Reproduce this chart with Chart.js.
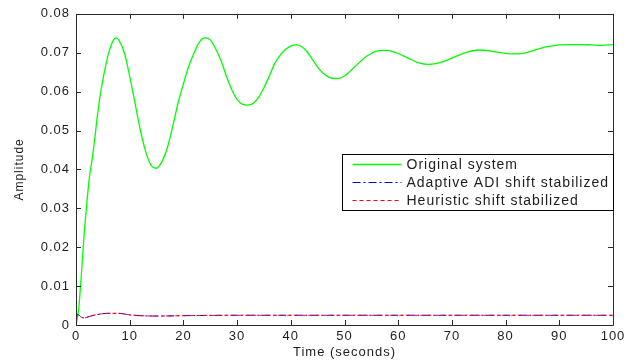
<!DOCTYPE html>
<html lang="en">
<head>
<meta charset="utf-8">
<title>Amplitude vs time</title>
<style>
  html, body { margin: 0; padding: 0; background: #fff; }
  #wrap { width: 634px; height: 360px; }
</style>
</head>
<body>
<div id="wrap"><canvas id="chart" width="634" height="360"></canvas></div>
<script src="https://cdn.jsdelivr.net/npm/chart.js@4.4.1/dist/chart.umd.min.js"></script>
<script>
// values
const timeOriginal = [0, 0.5, 1, 1.5, 2, 2.5, 3, 3.5, 4, 4.5, 5, 6, 7, 7.5, 8, 9, 10, 11, 12, 13, 14, 15, 16, 17, 18, 19, 20,
  21, 22, 23, 24, 25, 26, 27, 28, 29, 30, 31, 32, 33, 34, 35, 36, 37, 38, 39, 40, 41, 42, 43, 44, 45, 46, 47, 48, 49, 50,
  51, 52, 53, 54, 55, 56, 57, 58, 59, 60, 62, 64, 65.5, 67, 69, 71, 73, 75, 77, 79, 81, 82.5, 84, 86, 88, 90, 92, 94, 96, 98, 100];
const ampOriginal = [0, 0.004, 0.013, 0.023, 0.031, 0.038, 0.0425, 0.048, 0.054, 0.059, 0.063, 0.0695, 0.0733, 0.0738, 0.0732, 0.070, 0.064, 0.057, 0.050, 0.0445, 0.041, 0.0403, 0.042, 0.0455, 0.051, 0.057, 0.062,
  0.0665, 0.070, 0.0728, 0.0738, 0.0733, 0.071, 0.068, 0.064, 0.0605, 0.058, 0.0567, 0.0565, 0.057, 0.0585, 0.061, 0.064, 0.0672, 0.0693, 0.0708, 0.0717, 0.072, 0.0716, 0.0703, 0.0683, 0.0663, 0.0648, 0.0638, 0.0634, 0.0634, 0.064,
  0.0652, 0.0665, 0.0678, 0.069, 0.0698, 0.0704, 0.0706, 0.0706, 0.0703, 0.0698, 0.0685, 0.0673, 0.067, 0.0672, 0.068, 0.0692, 0.0702, 0.0707, 0.0705, 0.070, 0.0697, 0.0697, 0.0701, 0.0709, 0.0716, 0.072, 0.0721, 0.0721, 0.072, 0.0719, 0.0721];

const timeStabilized = [0, 0.3, 0.8, 1.5, 2.5, 4, 6, 8, 10, 12, 15, 20, 30, 100];
const ampAdaptive = [0.0015, 0.0028, 0.0022, 0.0018, 0.0022, 0.0027, 0.003, 0.003, 0.0026, 0.0024, 0.0023, 0.0024, 0.0025, 0.0025];
const ampHeuristic = [0.0015, 0.0028, 0.0022, 0.0018, 0.0022, 0.0027, 0.003, 0.003, 0.0026, 0.0024, 0.0023, 0.0024, 0.0025, 0.0025];

const xTicks = [0, 10, 20, 30, 40, 50, 60, 70, 80, 90, 100];
const yTicks = [0, 0.01, 0.02, 0.03, 0.04, 0.05, 0.06, 0.07, 0.08];
const seriesNames = ['Original system', 'Adaptive ADI shift stabilized', 'Heuristic shift stabilized'];
const seriesColors = ['#00ff00', '#0000ff', '#ff0000'];

const toPoints = (xs, ys) => xs.map((t, i) => ({ x: t, y: ys[i] }));
const textColor = '#1e1e1e';

// matlab style box with inward ticks and a boxed legend
const matlabFrame = {
  id: 'matlabFrame',
  beforeDraw(chart) {
    chart.ctx.letterSpacing = '1px';
  },
  afterDraw(chart) {
    const { ctx, chartArea: a, scales } = chart;
    ctx.save();
    ctx.strokeStyle = '#2a2a2a';
    ctx.lineWidth = 1;
    ctx.beginPath();
    ctx.rect(Math.round(a.left) + 0.5, Math.round(a.top) + 0.5,
      Math.round(a.right - a.left), Math.round(a.bottom - a.top));
    xTicks.forEach(v => {
      const px = Math.round(scales.x.getPixelForValue(v)) + 0.5;
      ctx.moveTo(px, a.bottom); ctx.lineTo(px, a.bottom - 5);
      ctx.moveTo(px, a.top); ctx.lineTo(px, a.top + 5);
    });
    yTicks.forEach(v => {
      const py = Math.round(scales.y.getPixelForValue(v)) + 0.5;
      ctx.moveTo(a.left, py); ctx.lineTo(a.left + 5, py);
      ctx.moveTo(a.right, py); ctx.lineTo(a.right - 5, py);
    });
    ctx.stroke();

    // legend box
    const bw = 271, bh = 56;
    const bx = Math.round(a.right - bw) + 0.5;
    const by = Math.round(a.top + 140) + 0.5;
    ctx.fillStyle = '#fff';
    ctx.fillRect(bx, by, bw, bh);
    ctx.strokeStyle = '#000';
    ctx.strokeRect(bx, by, bw, bh);

    // legend line samples first
    chart.data.datasets.forEach((ds, i) => {
      const ry = by + 10 + i * 18;
      ctx.beginPath();
      ctx.strokeStyle = seriesColors[i];
      ctx.lineWidth = ds.borderWidth;
      ctx.setLineDash(ds.borderDash || []);
      ctx.moveTo(bx + 10, ry);
      ctx.lineTo(bx + 59, ry);
      ctx.stroke();
    });
    ctx.setLineDash([]);

    // then legend texts
    ctx.font = '14px "Liberation Sans", Arial, sans-serif';
    ctx.textBaseline = 'middle';
    ctx.fillStyle = textColor;
    chart.data.datasets.forEach((ds, i) => {
      ctx.fillText(ds.label, bx + 64, by + 11 + i * 18);
    });
    ctx.restore();
  }
};

new Chart(document.getElementById('chart'), {
  type: 'line',
  data: {
    datasets: [
      {
        label: seriesNames[0],
        data: toPoints(timeOriginal, ampOriginal),
        borderColor: seriesColors[0],
        borderWidth: 1.3,
        pointRadius: 0,
        cubicInterpolationMode: 'monotone',
        order: 2
      },
      {
        label: seriesNames[1],
        data: toPoints(timeStabilized, ampAdaptive),
        borderColor: seriesColors[1],
        borderWidth: 1,
        borderDash: [8, 3, 2, 3],
        pointRadius: 0,
        cubicInterpolationMode: 'monotone',
        order: 1
      },
      {
        label: seriesNames[2],
        data: toPoints(timeStabilized, ampHeuristic),
        borderColor: seriesColors[2],
        borderWidth: 1,
        borderDash: [4, 3],
        pointRadius: 0,
        cubicInterpolationMode: 'monotone',
        order: 0
      }
    ]
  },
  options: {
    responsive: false,
    animation: false,
    layout: { padding: { top: 12, right: 21, left: 0, bottom: 0 } },
    plugins: {
      legend: { display: false },
      tooltip: { enabled: false }
    },
    scales: {
      x: {
        type: 'linear',
        min: 0,
        max: 100,
        afterFit: s => { s.height = 35; },
        afterBuildTicks: s => { s.ticks = xTicks.map(v => ({ value: v })); },
        grid: { display: false, drawTicks: false },
        border: { display: false },
        ticks: {
          padding: 4,
          color: textColor,
          maxRotation: 0,
          font: { family: '"Liberation Sans", Arial, sans-serif', size: 13 }
        },
        title: {
          display: true,
          text: 'Time (seconds)',
          color: textColor,
          padding: { top: 0, bottom: 0 },
          font: { family: '"Liberation Sans", Arial, sans-serif', size: 13 }
        }
      },
      y: {
        min: 0,
        max: 0.08,
        afterFit: s => { s.width = 76; },
        afterBuildTicks: s => { s.ticks = yTicks.map(v => ({ value: v })); },
        grid: { display: false, drawTicks: false },
        border: { display: false },
        ticks: {
          padding: 6,
          color: textColor,
          callback: v => (v === 0 ? '0' : v.toFixed(2)),
          font: { family: '"Liberation Sans", Arial, sans-serif', size: 13 }
        },
        title: {
          display: true,
          text: 'Amplitude',
          color: textColor,
          padding: { top: 12, bottom: 0 },
          font: { family: '"Liberation Sans", Arial, sans-serif', size: 12 }
        }
      }
    }
  },
  plugins: [matlabFrame]
});
</script>
</body>
</html>
